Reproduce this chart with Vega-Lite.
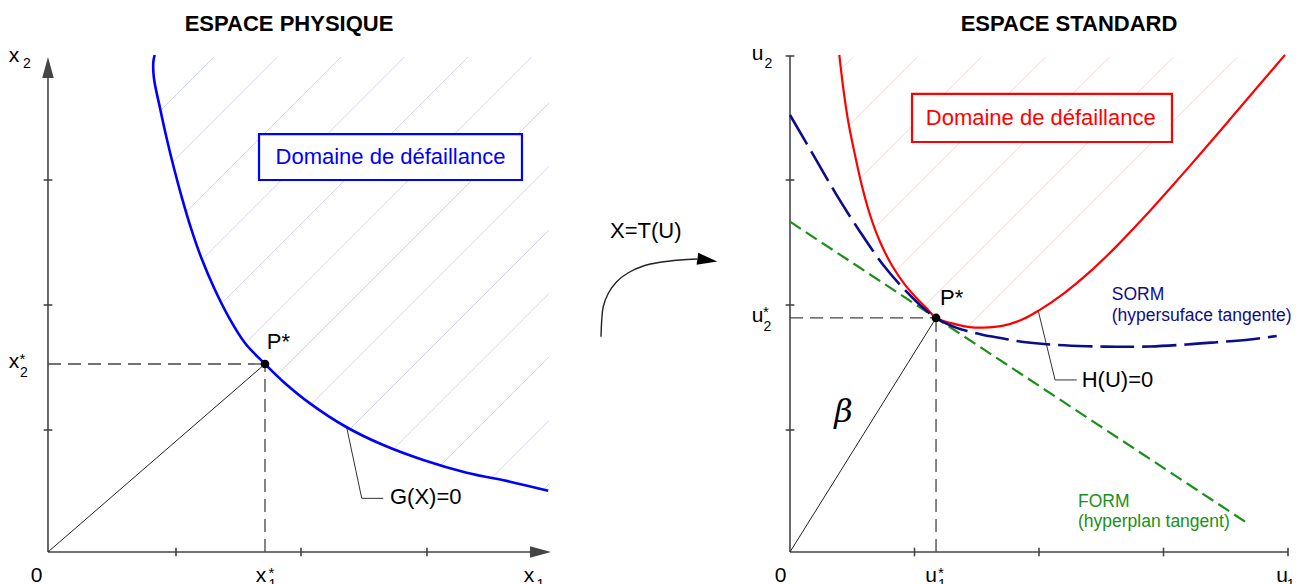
{
  "$schema": "https://vega.github.io/schema/vega-lite/v6.json",
  "padding": 0,
  "spacing": 0,
  "bounds": "flush",
  "config": {"view": {"stroke": null}, "font": "Liberation Sans", "text": {"font": "Liberation Sans"}},
  "datasets": {
    "hatchL": [
      {"x":0.904,"y":3.546,"x2":1.333,"y2":3.976},
      {"x":1.001,"y":3.133,"x2":1.843,"y2":3.976},
      {"x":1.111,"y":2.733,"x2":2.353,"y2":3.976},
      {"x":1.247,"y":2.359,"x2":2.863,"y2":3.976},
      {"x":1.411,"y":2.014,"x2":3.373,"y2":3.976},
      {"x":1.610,"y":1.702,"x2":3.884,"y2":3.976},
      {"x":1.837,"y":1.419,"x2":4.024,"y2":3.606},
      {"x":2.115,"y":1.187,"x2":4.024,"y2":3.096},
      {"x":2.427,"y":0.989,"x2":4.024,"y2":2.586},
      {"x":2.776,"y":0.828,"x2":4.024,"y2":2.076},
      {"x":3.156,"y":0.698,"x2":4.024,"y2":1.566},
      {"x":3.563,"y":0.595,"x2":4.024,"y2":1.056},
      {"x":3.979,"y":0.501,"x2":4.024,"y2":0.546}
    ],
    "boxL": [{"x":1.695,"y":2.988,"x2":3.807,"y2":3.357}],
    "axesL": [
      {"x":0,"y":0,"x2":3.95,"y2":0},
      {"x":0,"y":0,"x2":0,"y2":3.89},
      {"x":1.028,"y":-0.035,"x2":1.028,"y2":0.035},
      {"x":2.032,"y":-0.035,"x2":2.032,"y2":0.035},
      {"x":3.044,"y":-0.035,"x2":3.044,"y2":0.035},
      {"x":-0.035,"y":0.98,"x2":0.035,"y2":0.98},
      {"x":-0.035,"y":1.984,"x2":0.035,"y2":1.984},
      {"x":-0.035,"y":2.988,"x2":0.035,"y2":2.988}
    ],
    "arrowL": [{"x":3.956,"y":0,"dir":"right"},{"x":0,"y":3.892,"dir":"up"}],
    "guidesL": [{"x":0,"y":1.51,"x2":1.743,"y2":1.51},{"x":1.743,"y":0,"x2":1.743,"y2":1.51}],
    "rayL": [{"x":0,"y":0,"x2":1.743,"y2":1.51}],
    "leaderL": [{"i":0,"x":2.399,"y":1.002},{"i":1,"x":2.52,"y":0.431},{"i":2,"x":2.693,"y":0.431}],
    "curveL": [
      {"i":0,"x":0.857,"y":3.992},{"i":1,"x":0.846,"y":3.936},{"i":2,"x":0.851,"y":3.805},
      {"i":3,"x":0.9,"y":3.564},{"i":4,"x":0.953,"y":3.323},{"i":5,"x":1.012,"y":3.082},
      {"i":6,"x":1.077,"y":2.841},{"i":7,"x":1.149,"y":2.6},{"i":8,"x":1.233,"y":2.359},
      {"i":9,"x":1.335,"y":2.118},{"i":10,"x":1.457,"y":1.877},{"i":11,"x":1.582,"y":1.679},
      {"i":12,"x":1.743,"y":1.51},{"i":13,"x":1.89,"y":1.368},{"i":14,"x":2.104,"y":1.194},
      {"i":15,"x":2.399,"y":1.002},{"i":16,"x":2.693,"y":0.859},{"i":17,"x":3.014,"y":0.739},
      {"i":18,"x":3.363,"y":0.637},{"i":19,"x":3.711,"y":0.565},{"i":20,"x":4.018,"y":0.492}
    ],
    "pointL": [{"x":1.743,"y":1.51}],
    "txtL": [
      {"k":"title","x":1.936,"y":4.241,"t":"ESPACE PHYSIQUE"},
      {"k":"box","x":2.751,"y":3.173,"t":"Domaine de défaillance"},
      {"k":"note","x":1.757,"y":1.683,"t":"P*"},
      {"k":"note","x":2.747,"y":0.444,"t":"G(X)=0"},
      {"k":"main","x":-0.273,"y":3.936,"t":"x"},
      {"k":"main","x":-0.273,"y":1.478,"t":"x"},
      {"k":"main","x":-0.092,"y":-0.241,"t":"0"},
      {"k":"main","x":1.711,"y":-0.241,"t":"x"},
      {"k":"main","x":3.863,"y":-0.241,"t":"x"},
      {"k":"sub","x":-0.201,"y":3.888,"t":"2"},
      {"k":"sub","x":-0.225,"y":1.406,"t":"2"},
      {"k":"sub","x":1.771,"y":-0.297,"t":"1"},
      {"k":"sub","x":3.924,"y":-0.297,"t":"1"},
      {"k":"star","x":-0.229,"y":1.51,"t":"*"},
      {"k":"star","x":1.771,"y":-0.209,"t":"*"}
    ],
    "arcM": [
      {"i":0,"x":0.249,"y":1.729},{"i":1,"x":0.255,"y":1.863},{"i":2,"x":0.267,"y":1.97},
      {"i":3,"x":0.308,"y":2.078},{"i":4,"x":0.375,"y":2.171},{"i":5,"x":0.468,"y":2.243},
      {"i":6,"x":0.589,"y":2.297},{"i":7,"x":0.723,"y":2.327},{"i":8,"x":0.884,"y":2.345},
      {"i":9,"x":1.022,"y":2.353}
    ],
    "arrowM": [{"x":1.103,"y":2.344}],
    "txtM": [{"x":0.321,"y":2.578,"t":"X=T(U)"}],
    "hatchR": [
      {"x":0.41,"y":3.877,"x2":0.508,"y2":3.976},
      {"x":0.475,"y":3.427,"x2":1.024,"y2":3.976},
      {"x":0.564,"y":3.002,"x2":1.538,"y2":3.976},
      {"x":0.681,"y":2.605,"x2":2.052,"y2":3.976},
      {"x":0.848,"y":2.258,"x2":2.566,"y2":3.976},
      {"x":1.08,"y":1.976,"x2":3.08,"y2":3.976},
      {"x":1.425,"y":1.807,"x2":3.594,"y2":3.976}
    ],
    "boxR": [{"x":0.98,"y":3.293,"x2":3.068,"y2":3.679}],
    "axesR": [
      {"x":0,"y":0,"x2":4.0,"y2":0},
      {"x":0,"y":0,"x2":0,"y2":3.984},
      {"x":1,"y":-0.035,"x2":1,"y2":0.035},
      {"x":2,"y":-0.035,"x2":2,"y2":0.035},
      {"x":3,"y":-0.035,"x2":3,"y2":0.035},
      {"x":4,"y":-0.035,"x2":4,"y2":0.035},
      {"x":-0.035,"y":0.98,"x2":0.035,"y2":0.98},
      {"x":-0.035,"y":1.984,"x2":0.035,"y2":1.984},
      {"x":-0.035,"y":2.988,"x2":0.035,"y2":2.988},
      {"x":-0.035,"y":3.984,"x2":0.035,"y2":3.984}
    ],
    "guidesR": [{"x":0,"y":1.88,"x2":1.173,"y2":1.88},{"x":1.173,"y":0,"x2":1.173,"y2":1.88}],
    "rayR": [{"x":0,"y":0,"x2":1.173,"y2":1.88}],
    "formR": [{"x":0,"y":2.653,"x2":3.658,"y2":0.242}],
    "sormR": [
      {"i":0,"x":0,"y":3.51},{"i":1,"x":0.187,"y":3.189},{"i":2,"x":0.375,"y":2.867},
      {"i":3,"x":0.562,"y":2.573},{"i":4,"x":0.749,"y":2.305},{"i":5,"x":0.91,"y":2.118},
      {"i":6,"x":1.044,"y":1.984},{"i":7,"x":1.173,"y":1.88},{"i":8,"x":1.339,"y":1.8},
      {"i":9,"x":1.446,"y":1.77},{"i":10,"x":1.553,"y":1.743},{"i":11,"x":1.713,"y":1.715},
      {"i":12,"x":1.821,"y":1.695},{"i":13,"x":2.062,"y":1.669},{"i":14,"x":2.383,"y":1.653},
      {"i":15,"x":2.624,"y":1.649},{"i":16,"x":2.892,"y":1.651},{"i":17,"x":3.186,"y":1.667},
      {"i":18,"x":3.427,"y":1.685},{"i":19,"x":3.695,"y":1.707},{"i":20,"x":3.909,"y":1.735}
    ],
    "redR": [
      {"i":0,"x":0.396,"y":3.992},{"i":1,"x":0.428,"y":3.724},{"i":2,"x":0.468,"y":3.456},
      {"i":3,"x":0.522,"y":3.189},{"i":4,"x":0.576,"y":2.948},{"i":5,"x":0.643,"y":2.707},
      {"i":6,"x":0.723,"y":2.492},{"i":7,"x":0.817,"y":2.305},{"i":8,"x":0.924,"y":2.145},
      {"i":9,"x":1.018,"y":2.038},{"i":10,"x":1.098,"y":1.957},{"i":11,"x":1.173,"y":1.88},
      {"i":12,"x":1.312,"y":1.834},{"i":13,"x":1.446,"y":1.806},{"i":14,"x":1.553,"y":1.802},
      {"i":15,"x":1.713,"y":1.818},{"i":16,"x":1.874,"y":1.871},{"i":17,"x":1.994,"y":1.937},
      {"i":18,"x":2.195,"y":2.074},{"i":19,"x":2.41,"y":2.252},{"i":20,"x":2.624,"y":2.457},
      {"i":21,"x":2.838,"y":2.682},{"i":22,"x":3.052,"y":2.92},{"i":23,"x":3.267,"y":3.165},
      {"i":24,"x":3.48,"y":3.412},{"i":25,"x":3.695,"y":3.664},{"i":26,"x":3.855,"y":3.851},
      {"i":27,"x":3.976,"y":3.993}
    ],
    "leaderR": [{"i":0,"x":1.994,"y":1.937},{"i":1,"x":2.129,"y":1.382},{"i":2,"x":2.303,"y":1.382}],
    "pointR": [{"x":1.173,"y":1.88}],
    "txtR": [
      {"k":"title","x":2.241,"y":4.241,"t":"ESPACE STANDARD"},
      {"k":"box","x":2.014,"y":3.486,"t":"Domaine de défaillance"},
      {"k":"note","x":1.205,"y":2.044,"t":"P*"},
      {"k":"note","x":2.343,"y":1.382,"t":"H(U)=0"},
      {"k":"sorm","x":2.584,"y":2.064,"t":"SORM"},
      {"k":"sorm","x":2.584,"y":1.896,"t":"(hypersuface tangente)"},
      {"k":"form","x":2.313,"y":0.404,"t":"FORM"},
      {"k":"form","x":2.313,"y":0.239,"t":"(hyperplan tangent)"},
      {"k":"beta","x":0.43,"y":1.124,"t":"β"},
      {"k":"main","x":-0.261,"y":3.952,"t":"u"},
      {"k":"main","x":-0.261,"y":1.847,"t":"u"},
      {"k":"main","x":-0.076,"y":-0.241,"t":"0"},
      {"k":"main","x":1.133,"y":-0.241,"t":"u"},
      {"k":"main","x":3.952,"y":-0.241,"t":"u"},
      {"k":"sub","x":-0.205,"y":3.888,"t":"2"},
      {"k":"sub","x":-0.213,"y":1.775,"t":"2"},
      {"k":"sub","x":1.189,"y":-0.297,"t":"1"},
      {"k":"sub","x":3.989,"y":-0.297,"t":"1"},
      {"k":"star","x":-0.217,"y":1.888,"t":"*"},
      {"k":"star","x":1.189,"y":-0.209,"t":"*"}
    ]
  },
  "hconcat": [
    {
      "width": 570, "height": 584,
      "encoding": {
        "x": {"field":"x","type":"quantitative","scale":{"domain":[-0.3855,4.1928],"nice":false,"zero":false},"axis":null},
        "y": {"field":"y","type":"quantitative","scale":{"domain":[-0.257,4.4337],"nice":false,"zero":false},"axis":null}
      },
      "layer": [
        {"data":{"name":"hatchL"},"mark":{"type":"rule","color":"#d3d3f7","strokeWidth":1},
         "encoding":{"x2":{"field":"x2"},"y2":{"field":"y2"}}},
        {"data":{"name":"boxL"},"mark":{"type":"rect","fill":"white","stroke":"#0000ff","strokeWidth":2.2},
         "encoding":{"x2":{"field":"x2"},"y2":{"field":"y2"}}},
        {"data":{"name":"axesL"},"mark":{"type":"rule","color":"#454545","strokeWidth":1.6},
         "encoding":{"x2":{"field":"x2"},"y2":{"field":"y2"}}},
        {"data":{"name":"arrowL"},"mark":{"type":"point","filled":true,"color":"#454545","size":441,"opacity":1,"strokeWidth":0},
         "encoding":{"shape":{"field":"dir","type":"nominal","scale":{"domain":["right","up"],"range":["M 1 0 L -1 -0.55 L -1 0.55 Z","M 0 -1 L -0.55 1 L 0.55 1 Z"]},"legend":null}}},
        {"data":{"name":"guidesL"},"mark":{"type":"rule","color":"#444444","strokeWidth":1.3,"strokeDash":[13,7]},
         "encoding":{"x2":{"field":"x2"},"y2":{"field":"y2"}}},
        {"data":{"name":"rayL"},"mark":{"type":"rule","color":"#222222","strokeWidth":1},
         "encoding":{"x2":{"field":"x2"},"y2":{"field":"y2"}}},
        {"data":{"name":"leaderL"},"mark":{"type":"line","color":"#333333","strokeWidth":1},
         "encoding":{"order":{"field":"i","type":"quantitative"}}},
        {"data":{"name":"curveL"},"mark":{"type":"line","color":"#0000ff","strokeWidth":2.6,"interpolate":"catmull-rom"},
         "encoding":{"order":{"field":"i","type":"quantitative"}}},
        {"data":{"name":"pointL"},"mark":{"type":"point","filled":true,"color":"black","size":75,"opacity":1}},
        {"data":{"name":"txtL"},"transform":[{"filter":"datum.k == 'title'"}],
         "mark":{"type":"text","fontSize":22,"fontWeight":"bold","align":"center","baseline":"middle","color":"black"},
         "encoding":{"text":{"field":"t"}}},
        {"data":{"name":"txtL"},"transform":[{"filter":"datum.k == 'box'"}],
         "mark":{"type":"text","fontSize":22,"align":"center","baseline":"middle","color":"#0000ff"},
         "encoding":{"text":{"field":"t"}}},
        {"data":{"name":"txtL"},"transform":[{"filter":"datum.k == 'note'"}],
         "mark":{"type":"text","fontSize":22,"align":"left","baseline":"middle","color":"black"},
         "encoding":{"text":{"field":"t"}}},
        {"data":{"name":"txtL"},"transform":[{"filter":"datum.k == 'main'"}],
         "mark":{"type":"text","fontSize":21,"align":"center","baseline":"alphabetic","color":"black"},
         "encoding":{"text":{"field":"t"}}},
        {"data":{"name":"txtL"},"transform":[{"filter":"datum.k == 'sub'"}],
         "mark":{"type":"text","fontSize":14,"align":"left","baseline":"alphabetic","color":"black","clip":true},
         "encoding":{"text":{"field":"t"}}},
        {"data":{"name":"txtL"},"transform":[{"filter":"datum.k == 'star'"}],
         "mark":{"type":"text","fontSize":15,"align":"left","baseline":"alphabetic","color":"black"},
         "encoding":{"text":{"field":"t"}}}
      ]
    },
    {
      "width": 170, "height": 584,
      "encoding": {
        "x": {"field":"x","type":"quantitative","scale":{"domain":[0,1.3655],"nice":false,"zero":false},"axis":null},
        "y": {"field":"y","type":"quantitative","scale":{"domain":[-0.257,4.4337],"nice":false,"zero":false},"axis":null}
      },
      "layer": [
        {"data":{"name":"arcM"},"mark":{"type":"line","color":"#222222","strokeWidth":1.4,"interpolate":"catmull-rom"},
         "encoding":{"order":{"field":"i","type":"quantitative"}}},
        {"data":{"name":"arrowM"},"mark":{"type":"point","filled":true,"color":"black","size":400,"opacity":1,"strokeWidth":0,"angle":8,"shape":"M 1 0 L -1 -0.6 L -1 0.6 Z"}},
        {"data":{"name":"txtM"},"mark":{"type":"text","fontSize":22,"align":"left","baseline":"middle","color":"black"},
         "encoding":{"text":{"field":"t"}}}
      ]
    },
    {
      "width": 562, "height": 584,
      "encoding": {
        "x": {"field":"x","type":"quantitative","scale":{"domain":[-0.4016,4.1124],"nice":false,"zero":false},"axis":null},
        "y": {"field":"y","type":"quantitative","scale":{"domain":[-0.257,4.4337],"nice":false,"zero":false},"axis":null}
      },
      "layer": [
        {"data":{"name":"hatchR"},"mark":{"type":"rule","color":"#f8d2d2","strokeWidth":1},
         "encoding":{"x2":{"field":"x2"},"y2":{"field":"y2"}}},
        {"data":{"name":"boxR"},"mark":{"type":"rect","fill":"white","stroke":"#ff0000","strokeWidth":2.2},
         "encoding":{"x2":{"field":"x2"},"y2":{"field":"y2"}}},
        {"data":{"name":"axesR"},"mark":{"type":"rule","color":"#454545","strokeWidth":1.6},
         "encoding":{"x2":{"field":"x2"},"y2":{"field":"y2"}}},
        {"data":{"name":"guidesR"},"mark":{"type":"rule","color":"#444444","strokeWidth":1.3,"strokeDash":[13,7]},
         "encoding":{"x2":{"field":"x2"},"y2":{"field":"y2"}}},
        {"data":{"name":"rayR"},"mark":{"type":"rule","color":"#222222","strokeWidth":1},
         "encoding":{"x2":{"field":"x2"},"y2":{"field":"y2"}}},
        {"data":{"name":"formR"},"mark":{"type":"rule","color":"#1a8f1a","strokeWidth":2.2,"strokeDash":[13,6]},
         "encoding":{"x2":{"field":"x2"},"y2":{"field":"y2"}}},
        {"data":{"name":"leaderR"},"mark":{"type":"line","color":"#333333","strokeWidth":1},
         "encoding":{"order":{"field":"i","type":"quantitative"}}},
        {"data":{"name":"redR"},"mark":{"type":"line","color":"#ff0000","strokeWidth":2.2,"interpolate":"catmull-rom"},
         "encoding":{"order":{"field":"i","type":"quantitative"}}},
        {"data":{"name":"sormR"},"mark":{"type":"line","color":"#0d0d8c","strokeWidth":2.6,"strokeDash":[34,8],"interpolate":"catmull-rom"},
         "encoding":{"order":{"field":"i","type":"quantitative"}}},
        {"data":{"name":"pointR"},"mark":{"type":"point","filled":true,"color":"black","size":75,"opacity":1}},
        {"data":{"name":"txtR"},"transform":[{"filter":"datum.k == 'title'"}],
         "mark":{"type":"text","fontSize":22,"fontWeight":"bold","align":"center","baseline":"middle","color":"black"},
         "encoding":{"text":{"field":"t"}}},
        {"data":{"name":"txtR"},"transform":[{"filter":"datum.k == 'box'"}],
         "mark":{"type":"text","fontSize":22,"align":"center","baseline":"middle","color":"#ff0000"},
         "encoding":{"text":{"field":"t"}}},
        {"data":{"name":"txtR"},"transform":[{"filter":"datum.k == 'note'"}],
         "mark":{"type":"text","fontSize":22,"align":"left","baseline":"middle","color":"black"},
         "encoding":{"text":{"field":"t"}}},
        {"data":{"name":"txtR"},"transform":[{"filter":"datum.k == 'sorm'"}],
         "mark":{"type":"text","fontSize":17.5,"align":"left","baseline":"middle","color":"#0d0d8c"},
         "encoding":{"text":{"field":"t"}}},
        {"data":{"name":"txtR"},"transform":[{"filter":"datum.k == 'form'"}],
         "mark":{"type":"text","fontSize":17.5,"align":"left","baseline":"middle","color":"#1a8f1a"},
         "encoding":{"text":{"field":"t"}}},
        {"data":{"name":"txtR"},"transform":[{"filter":"datum.k == 'beta'"}],
         "mark":{"type":"text","fontSize":32,"font":"DejaVu Serif","fontStyle":"italic","align":"center","baseline":"middle","color":"black"},
         "encoding":{"text":{"field":"t"}}},
        {"data":{"name":"txtR"},"transform":[{"filter":"datum.k == 'main'"}],
         "mark":{"type":"text","fontSize":21,"align":"center","baseline":"alphabetic","color":"black"},
         "encoding":{"text":{"field":"t"}}},
        {"data":{"name":"txtR"},"transform":[{"filter":"datum.k == 'sub'"}],
         "mark":{"type":"text","fontSize":14,"align":"left","baseline":"alphabetic","color":"black","clip":true},
         "encoding":{"text":{"field":"t"}}},
        {"data":{"name":"txtR"},"transform":[{"filter":"datum.k == 'star'"}],
         "mark":{"type":"text","fontSize":15,"align":"left","baseline":"alphabetic","color":"black"},
         "encoding":{"text":{"field":"t"}}}
      ]
    }
  ]
}
